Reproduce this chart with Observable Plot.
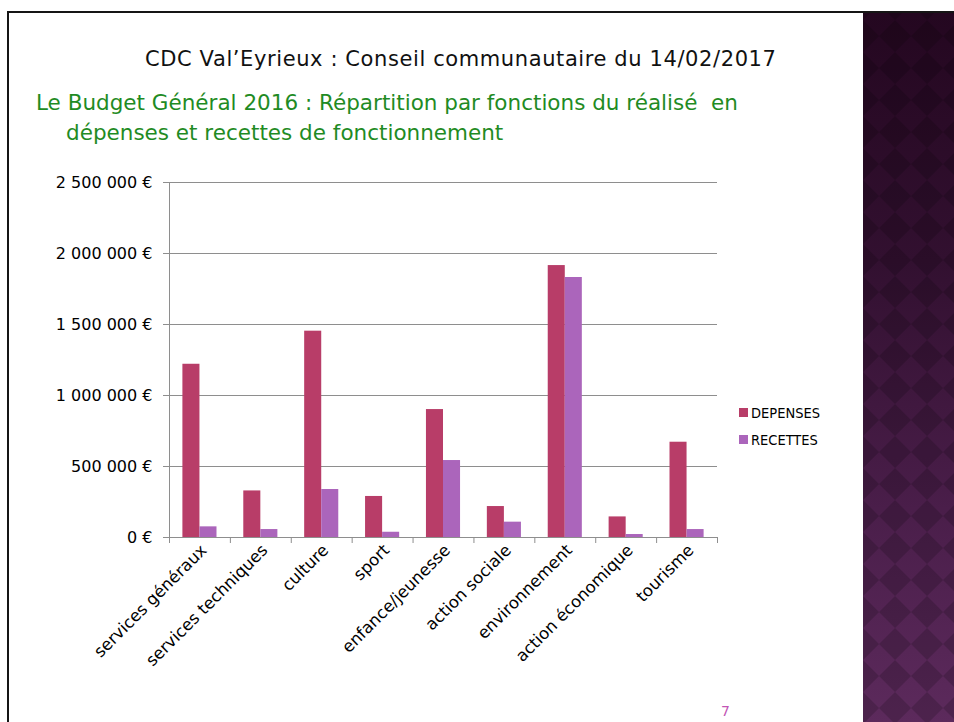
<!DOCTYPE html>
<html><head><meta charset="utf-8">
<script src="https://cdn.jsdelivr.net/npm/d3@7"></script>
<script src="https://cdn.jsdelivr.net/npm/@observablehq/plot@0.6"></script>
<style>
body{margin:0;width:954px;height:722px;overflow:hidden;background:#fff;position:relative;font-family:"DejaVu Sans",sans-serif}
.abs{position:absolute;white-space:nowrap}
#border-top{left:7px;top:11px;width:947px;height:2px;background:#151515}
#border-left{left:7px;top:11px;width:2px;height:711px;background:#151515}
#panel{left:863px;top:13px;width:91px;height:709px;overflow:hidden;background:linear-gradient(#240720,#321030 35%,#4a1e4a 70%,#5c2a5c)}
#panel .chk{position:absolute;left:-500px;top:-500px;width:1800px;height:1800px;transform:rotate(45deg);background:repeating-conic-gradient(rgba(0,0,0,0.17) 0 25%, rgba(0,0,0,0) 0 50%) 0 0/45.25px 45.25px}
#title{left:145px;top:49px;font-size:21px;line-height:21px;letter-spacing:0.6px;color:#111}
.sub{font-size:21.5px;line-height:22px;color:#1f8b24}
#chart{left:0;top:160px}
.leg{font-size:14.5px;line-height:15px;color:#000;font-family:"DejaVu Sans Condensed","DejaVu Sans",sans-serif}
.sw{width:9px;height:9px}
#pagenum{left:721px;top:704px;font-size:14px;line-height:14px;color:#c255b5}
</style></head>
<body>
<div id="border-top" class="abs"></div>
<div id="border-left" class="abs"></div>
<div id="panel" class="abs"><div class="chk"></div></div>
<div id="title" class="abs">CDC Val’Eyrieux : Conseil communautaire du 14/02/2017</div>
<div class="abs sub" style="left:36px;top:92px">Le Budget Général 2016 : Répartition par fonctions du réalisé&nbsp; en</div>
<div class="abs sub" style="left:66px;top:122px">dépenses et recettes de fonctionnement</div>
<div id="chart" class="abs"></div>
<div id="legend"></div>
<div id="pagenum" class="abs">7</div>
<script>
const categories = ["services généraux","services techniques","culture","sport","enfance/jeunesse","action sociale","environnement","action économique","tourisme"];
const depenses = [1220000,328000,1453000,289000,901000,218000,1915000,145000,671000];
const recettes = [75000,56000,338000,37000,542000,108000,1831000,21000,56000];
const seriesNames = ["DEPENSES","RECETTES"];
const seriesColors = ["#b83d68","#ab65bb"];
const yTicks = [0,500000,1000000,1500000,2000000,2500000];

const rows = categories.flatMap((c,i)=>[
  {cat:c, serie:seriesNames[0], value:depenses[i]},
  {cat:c, serie:seriesNames[1], value:recettes[i]}
]);

const W = 862, H = 540, mL = 169, mR = 145, mT = 22, mB = 163;
const step = (W - mL - mR) / categories.length;
const pInner = 0.72;
const bw = step * (1 - pInner);
const fmt = d => d3.format(",")(d).replace(/,/g, " ") + " €";
const gray = "#8e8e8e";

const chart = Plot.plot({
  width: W, height: H,
  marginLeft: mL, marginRight: mR, marginTop: mT, marginBottom: mB,
  style: {fontFamily: "'DejaVu Sans', sans-serif", color: "#000", background: "transparent"},
  x: {type: "band", domain: categories, paddingInner: pInner, paddingOuter: pInner/2, round: false, label: null},
  y: {domain: [0, 2500000], label: null},
  color: {domain: seriesNames, range: seriesColors},
  marks: [
    Plot.gridY(yTicks, {stroke: gray, strokeOpacity: 1, strokeWidth: 1}),
    Plot.axisY(yTicks, {tickSize: 6, tickPadding: 11, tickFormat: fmt, fontSize: 16, stroke: gray, label: null}),
    Plot.ruleX([categories[0]], {x: d => d, dx: -step/2, y1: 0, y2: 2500000, stroke: gray}),
    Plot.ruleX(categories, {x: d => d, dx: -step/2, y1: 0, y2: 0, insetBottom: -6, stroke: gray}),
    Plot.ruleX([categories[categories.length-1]], {x: d => d, dx: step/2, y1: 0, y2: 0, insetBottom: -6, stroke: gray}),
    Plot.barY(rows.filter(r => r.serie === seriesNames[0]), {x: "cat", y: "value", fill: "serie", dx: -bw/2, inset: 0}),
    Plot.barY(rows.filter(r => r.serie === seriesNames[1]), {x: "cat", y: "value", fill: "serie", dx: bw/2, inset: 0}),
    Plot.axisX({tickSize: 0, tickRotate: -45, tickPadding: 10, dx: 4, fontSize: 16.5, label: null})
  ]
});
document.getElementById("chart").appendChild(chart);

const legend = document.getElementById("legend");
seriesNames.forEach((s, i) => {
  const top = 408 + i * 27;
  const sw = document.createElement("div");
  sw.className = "abs sw";
  sw.style.left = "739px"; sw.style.top = top + "px"; sw.style.background = seriesColors[i];
  legend.appendChild(sw);
  const t = document.createElement("div");
  t.className = "abs leg";
  t.style.left = "751px"; t.style.top = (top - 2) + "px";
  t.textContent = s;
  legend.appendChild(t);
});
</script>
</body></html>
